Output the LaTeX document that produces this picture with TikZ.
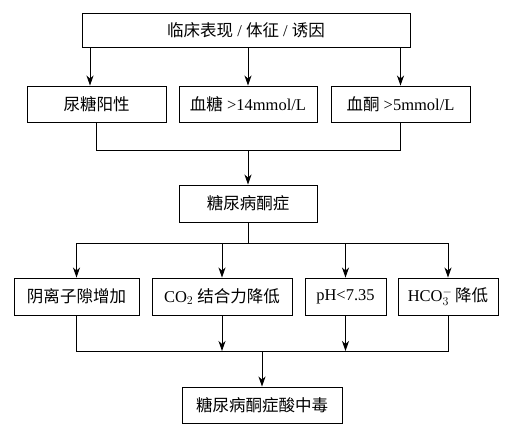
\documentclass[tikz,border=0pt]{standalone}
\usepackage{fontspec}
\setmainfont{Liberation Serif}
\newfontfamily\cjk{Noto Sans CJK SC}
\usetikzlibrary{arrows.meta, positioning, calc}

\begin{document}
\begin{tikzpicture}[x=1pt, y=-1pt,
		box/.style={draw, line width=0.9pt, inner sep=0pt, minimum height=36pt,
			font=\fontsize{16.5}{18}\selectfont},
		arr/.style={line width=0.9pt, -{Stealth[length=10pt, width=7pt, inset=3pt]}},
		link/.style={line width=0.9pt}]
		\useasboundingbox (0,0) rectangle (511,431);
		
		% Top box
		\node[box, minimum width=328pt, minimum height=34pt] (sign) at (246,30)
		{{\cjk 临床表现} / {\cjk 体征} / {\cjk 诱因}};
		
		% Second row
		\node[box, minimum width=139pt] (urine) at (96.5,104) {\cjk 尿糖阳性};
		\node[box, minimum width=138pt] (glucose) at (248,104) {{\cjk 血糖} >14mmol/L};
		\node[box, minimum width=139pt] (ketone) at (400.5,104) {{\cjk 血酮} >5mmol/L};
		
		% Ketosis
		\node[box, minimum width=138pt, minimum height=37pt] (ketosis) at (248,203.5) {\cjk 糖尿病酮症};
		
		% Fourth row
		\node[box, minimum width=125pt, minimum height=37pt] (gap) at (76.5,296.5) {\cjk 阴离子隙增加};
		\node[box, minimum width=140pt, minimum height=37pt] (co2) at (222,296.5) {CO$_2$ {\cjk 结合力降低}};
		\node[box, minimum width=81pt, minimum height=37pt] (ph) at (345.5,296.5) {pH<7.35};
		\node[box, minimum width=100pt, minimum height=37pt] (hco3) at (448,296.5) {HCO$_3^-$\,{\cjk 降低}};
		
		% Bottom box
		\node[box, minimum width=160pt] (dka) at (262,405) {\cjk 糖尿病酮症酸中毒};
		
		% Junctions
		\coordinate (j1) at (248,150);
		\coordinate (j2) at (248,243);
		\coordinate (j3) at (262,351);
		
		% Top to second row
		\draw[arr] ([xshift=-6.5pt]urine.north |- sign.south) -- ([xshift=-6.5pt]urine.north);
		\draw[arr] (glucose.north |- sign.south) -- (glucose.north);
		\draw[arr] (ketone.north |- sign.south) -- (ketone.north);
		
		% Second row to ketosis
		\draw[link] (urine.south) -- (urine.south |- j1) -- (ketone.south |- j1) -- (ketone.south);
		\draw[arr] (j1) -- (ketosis.north);
		
		% Ketosis to fourth row
		\draw[link] (ketosis.south) -- (j2);
		\draw[link] (gap.north |- j2) -- (hco3.north |- j2);
		\foreach \n in {gap, co2, ph, hco3}
		\draw[arr] (\n.north |- j2) -- (\n.north);
		
		% Fourth row to acidosis
		\draw[link] (gap.south) -- (gap.south |- j3) -- (hco3.south |- j3) -- (hco3.south);
		\draw[arr] (co2.south) -- (co2.south |- j3);
		\draw[arr] (ph.south) -- (ph.south |- j3);
		\draw[arr] (j3) -- (dka.north);
	\end{tikzpicture}
\end{document}
